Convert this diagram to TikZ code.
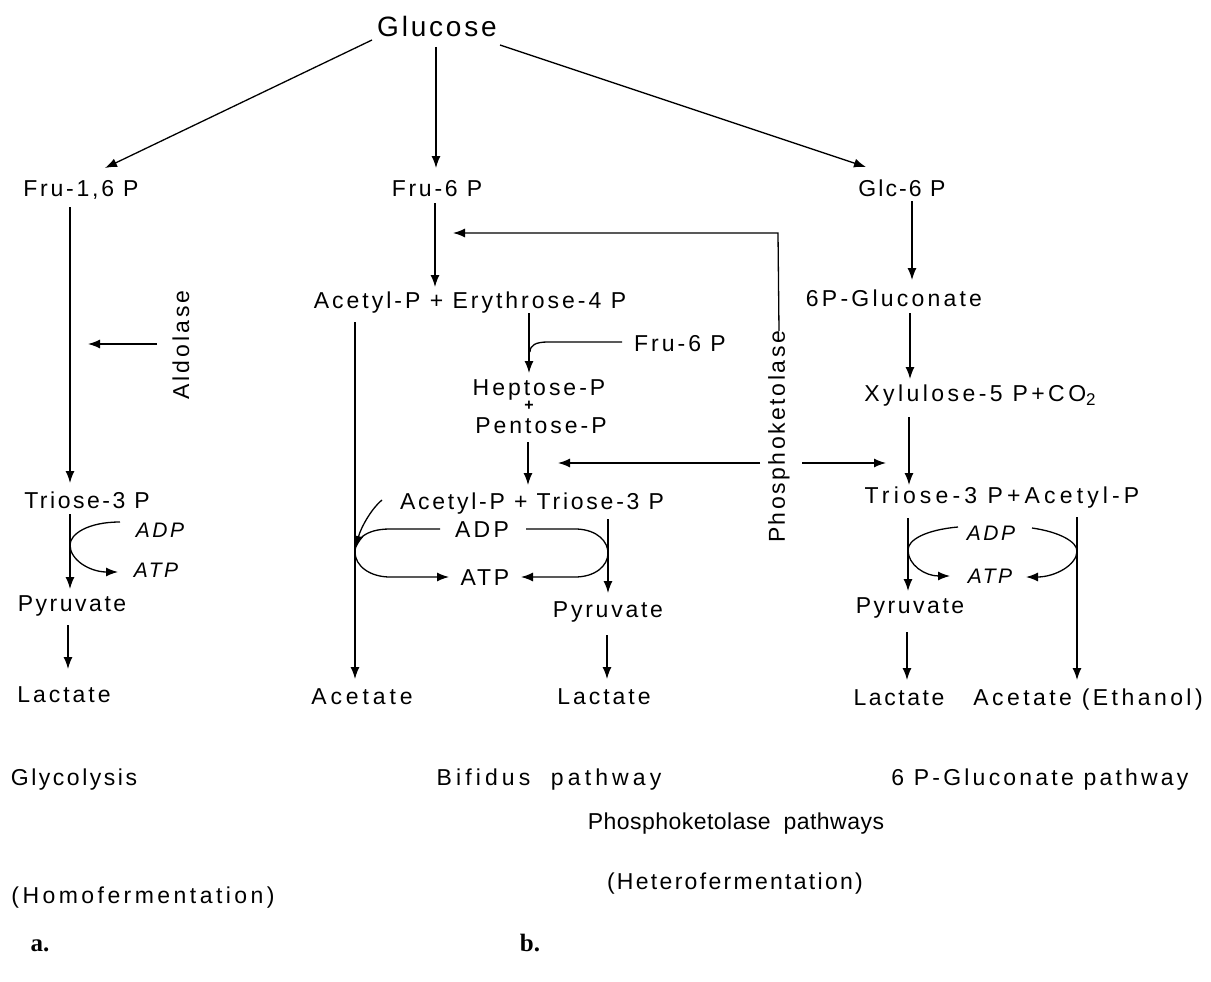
\documentclass[tikz,border=0pt]{standalone}
\usepackage{fontspec}
\setmainfont{Liberation Sans}
\newfontfamily\serifb{Liberation Serif}
\usetikzlibrary{arrows.meta,calc}
\begin{document}
\begin{tikzpicture}[x=1pt,y=-1pt,
  t/.style={font={\fontspec[LetterSpace=#1]{Liberation Sans}\fontsize{23}{26}\selectfont}, inner sep=0pt, anchor=base},
  t/.default=14,
  ti/.style={font={\fontspec[LetterSpace=#1]{Liberation Sans}\itshape\fontsize{21}{24}\selectfont}, inner sep=0pt, anchor=base},
  ti/.default=12,
  big/.style={font={\fontspec[LetterSpace=10]{Liberation Sans}\fontsize{28}{32}\selectfont}, inner sep=0pt, anchor=base},
  tag/.style={font=\serifb\bfseries\fontsize{25}{28}\selectfont, inner sep=0pt, anchor=base},
  arr/.style={draw, line width=1.3pt, -{Latex[length=12pt,width=9pt]}},
  ln/.style={draw, line width=1.3pt}]
\useasboundingbox[fill=white] (0,0) rectangle (1211,982);

% ---------- nodes ----------
\node[big] (glucose) at (437,37) {Glucose};
\node[t=12] (fru16) at (81,196) {Fru-1,6 P};
\node[t=12] (fru6) at (437,196) {Fru-6 P};
\node[t=9] (glc6) at (902,196) {Glc-6 P};
\node[t=13, rotate=90, anchor=center] (aldolase) at (181,345) {Aldolase};
\node[t=11] (triL) at (87,508) {Triose-3 P};
\node[ti] (adpL) at (160,537) {ADP};
\node[ti] (atpL) at (156,577) {ATP};
\node[t=11] (pyrL) at (72,611) {Pyruvate};
\node[t=13] (lacL) at (64,702) {Lactate};

\node[t=13] (aep) at (470,308) {Acetyl-P + Erythrose-4 P};
\node[t=13] (fru6b) at (680,351) {Fru-6 P};
\node[t=13] (hep) at (539,395) {Heptose-P};
\node[font=\bfseries\fontsize{16}{16}\selectfont, inner sep=0pt] (plus) at (529,406) {+};
\node[t=13] (pen) at (541,433) {Pentose-P};
\node[t=11, rotate=90, anchor=center] (pk) at (779,437) {Phosphoketolase};
\node[t=12] (atp3) at (532,509) {Acetyl-P + Triose-3 P};
\node[t=14] (adpM) at (482,537) {ADP};
\node[t=12] (atpM) at (485,585) {ATP};
\node[t=12] (pyrM) at (608,617) {Pyruvate};
\node[t=17] (acM) at (362,704) {Acetate};
\node[t=13] (lacM) at (604,704) {Lactate};

\node[t=14] (glu6) at (894,306) {6P-Gluconate};
\node[t=15] (xyl) at (980,401) {Xylulose-5 P+CO\raisebox{-4pt}{\fontsize{17}{18}\selectfont 2}};
\node[t=18] (ta) at (1002,503) {Triose-3 P+Acetyl-P};
\node[ti] (adpR) at (991,540) {ADP};
\node[ti] (atpR) at (990,583) {ATP};
\node[t=11] (pyrR) at (910,613) {Pyruvate};
\node[t=11] (lacR) at (899,705) {Lactate};
\node[t=15] (acR) at (1088,705) {Acetate (Ethanol)};

\node[t=11] (glyc) at (74,785) {Glycolysis};
\node[t=18] (bif) at (549,785) {Bifidus\hspace{10pt} pathway};
\node[t=14] (gpw) at (1040,785) {6 P-Gluconate pathway};
\node[t=2] (pkw) at (736,829) {Phosphoketolase\hspace{6pt} pathways};
\node[t=15] (homo) at (143,903) {(Homofermentation)};
\node[t=10] (hetero) at (735,889) {(Heterofermentation)};
\node[tag] (ta1) at (40,951) {a.};
\node[tag] (tb1) at (530,951) {b.};

% ---------- coordinates ----------
\coordinate (g1) at (372,40);   \coordinate (c1) at (105,168);
\coordinate (g2) at (436,47);   \coordinate (c0) at (436,168);
\coordinate (g3) at (500,45);   \coordinate (c2) at (866,167);
\coordinate (aldS) at (157,344); \coordinate (ald) at (88,344);
\coordinate (pkT) at (778,233);  \coordinate (pkL) at (453,233);
\coordinate (mLs) at (760,463);  \coordinate (mL) at (558,463);
\coordinate (mRs) at (802,463);  \coordinate (mR) at (886,463);
\coordinate (fj) at (530,352);
\coordinate (adpLs) at (120,522); \coordinate (atpLe) at (118,572);
\coordinate (aps) at (382,500);   \coordinate (ape) at (356,548);
\coordinate (adpMl) at (440,529); \coordinate (atpMl) at (449,577);
\coordinate (adpMr) at (526,529); \coordinate (atpMr) at (521,577);
\coordinate (adpRl) at (958,527); \coordinate (atpRl) at (950,576);
\coordinate (adpRr) at (1032,528); \coordinate (atpRr) at (1026,577);

% ---------- connectors: Glucose ----------
\draw[arr] (g1) -- (c1);
\draw[arr] (g2) -- (c0);
\draw[arr] (g3) -- (c2);

% ---------- glycolysis ----------
\draw[arr] (70,207) -- (70,483);
\draw[arr] (aldS) -- (ald);
\draw[arr] (70,514) -- (70,589);
\draw[arr] (adpLs) .. controls (88,522) and (70,534) .. (70,545)
   .. controls (70,560) and (90,572) .. (atpLe);
\draw[arr] (68,625) -- (68,669);

% ---------- bifidus ----------
\draw[arr] (435,203) -- (435,287);
\draw[arr] (pk.east) -- (pkT) -- (pkL);
\draw[arr] (355,322) -- (355,679);
\draw[arr] (529,313) -- (529,373);
\draw[ln] (622,342) -- (548,342) .. controls (536,342) and (530,345) .. (fj);
\draw[arr] (528,442) -- (528,485);
\draw[arr] (mLs) -- (mL);
\draw[arr] (mRs) -- (mR);
\draw[arr] (aps) .. controls (370,510) and (360,530) .. (ape);
\draw[arr] (adpMl) -- (390,529) .. controls (365,529) and (355,540) .. (355,552)
   .. controls (355,566) and (370,577) .. (390,577) -- (atpMl);
\draw[arr] (adpMr) -- (577,529) .. controls (598,530) and (608,542) .. (608,553)
   .. controls (608,566) and (595,577) .. (575,577) -- (atpMr);
\draw[arr] (608,519) -- (608,593);
\draw[arr] (607,635) -- (607,679);

% ---------- 6P-gluconate ----------
\draw[arr] (912,201) -- (912,280);
\draw[arr] (910,313) -- (910,379);
\draw[arr] (909,417) -- (909,485);
\draw[arr] (908,518) -- (908,591);
\draw[arr] (1077,517) -- (1077,680);
\draw[arr] (adpRl) .. controls (925,530) and (908,540) .. (908,550)
   .. controls (908,565) and (925,576) .. (atpRl);
\draw[arr] (adpRr) .. controls (1060,532) and (1077,542) .. (1077,551)
   .. controls (1077,565) and (1055,577) .. (atpRr);
\draw[arr] (907,632) -- (907,680);
\end{tikzpicture}
\end{document}
